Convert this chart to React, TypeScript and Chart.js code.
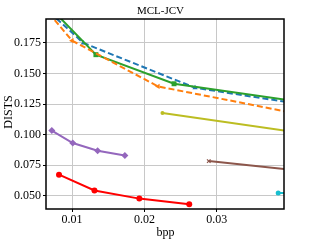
import React, { useEffect, useRef } from "react";
import { Chart, registerables } from "chart.js";

Chart.register(...registerables);

const titleText = "MCL-JCV";
const xLabel = "bpp";
const yLabel = "DISTS";

const xTickValues = [0.01, 0.02, 0.03];
const xTickLabels = ["0.01", "0.02", "0.03"];
const yTickValues = [0.05, 0.075, 0.1, 0.125, 0.15, 0.175];
const yTickLabels = ["0.050", "0.075", "0.100", "0.125", "0.150", "0.175"];

const blueX = [0.006, 0.01156, 0.027, 0.045];
const blueY = [0.205, 0.175, 0.1383, 0.1218];
const orangeX = [0.006, 0.01, 0.0219, 0.045];
const orangeY = [0.205, 0.1769, 0.1394, 0.1126];
const greenX = [0.0068, 0.0133, 0.0241, 0.045];
const greenY = [0.205, 0.1654, 0.1416, 0.1239];
const redX = [0.0082, 0.0131, 0.0193, 0.0262];
const redY = [0.0672, 0.0543, 0.0476, 0.0429];
const purpleX = [0.0072, 0.0101, 0.01354, 0.0173];
const purpleY = [0.1033, 0.0931, 0.0868, 0.0829];
const oliveX = [0.0225, 0.045];
const oliveY = [0.1176, 0.0985];
const brownX = [0.0289, 0.045];
const brownY = [0.0783, 0.0683];
const cyanX = [0.0385, 0.05];
const cyanY = [0.0522, 0.0512];

const pts = (xs: number[], ys: number[]) => xs.map((x, i) => ({ x, y: ys[i] }));

const FONT = "'Liberation Serif', 'DejaVu Serif', serif";

export default function App() {
  const ref = useRef<HTMLCanvasElement | null>(null);
  useEffect(() => {
    if (!ref.current) return;
    const framePlugin = {
      id: "frame",
      afterDraw(chart: any) {
        const { ctx, chartArea: a } = chart;
        ctx.save();
        ctx.strokeStyle = "#000";
        ctx.lineWidth = 1.5;
        ctx.strokeRect(a.left, a.top, a.right - a.left, a.bottom - a.top);
        ctx.fillStyle = "#000";
        ctx.textAlign = "center";
        ctx.textBaseline = "middle";
        ctx.font = `11px ${FONT}`;
        ctx.fillText(titleText, 160.5, 11.5);
        ctx.font = `12px ${FONT}`;
        ctx.fillText(xLabel, 165.5, 232.5);
        ctx.translate(9, 112);
        ctx.rotate(-Math.PI / 2);
        ctx.fillText(yLabel, 0, 0);
        ctx.restore();
      },
    };
    const ds = (
      xs: number[],
      ys: number[],
      color: string,
      style: any,
      radius: number,
      dash: number[] = [],
      rotation = 0
    ) => ({
      data: pts(xs, ys),
      borderColor: color,
      backgroundColor: color,
      borderWidth: 2,
      borderDash: dash,
      pointStyle: style,
      pointRadius: radius,
      pointRotation: rotation,
      pointBorderWidth: style === "crossRot" ? 1.2 : 0,
      pointBorderColor: color,
      tension: 0,
    });
    const chart = new Chart(ref.current, {
      type: "line",
      data: {
        datasets: [
          ds(oliveX, oliveY, "#bcbd22", "circle", 2),
          ds(brownX, brownY, "#8c564b", "crossRot", 2.5),
          ds(cyanX, cyanY, "#17becf", "circle", 2.5),
          ds(purpleX, purpleY, "#9467bd", "rectRot", 3.5),
          ds(redX, redY, "#ff0000", "circle", 3),
          ds(orangeX, orangeY, "#ff7f0e", "triangle", 3, [6, 3], -90),
          ds(greenX, greenY, "#2ca02c", "rect", 3.5),
          ds(blueX, blueY, "#1f77b4", "triangle", 3, [6, 3]),
        ] as any,
      },
      plugins: [framePlugin],
      options: {
        animation: false,
        responsive: false,
        maintainAspectRatio: false,
        layout: { padding: { top: 19, right: 25, left: 0, bottom: 0 } },
        plugins: { legend: { display: false }, title: { display: false }, tooltip: { enabled: false } },
        scales: {
          x: {
            type: "linear",
            min: 0.0064,
            max: 0.0393,
            afterBuildTicks: (s: any) => {
              s.ticks = xTickValues.map((v) => ({ value: v }));
            },
            afterFit: (s: any) => {
              s.height = 38;
            },
            ticks: {
              color: "#000",
              font: { family: FONT, size: 12 },
              padding: 1,
              maxRotation: 0,
              callback: (v: any) => {
                const i = xTickValues.findIndex((t) => Math.abs(t - v) < 1e-9);
                return i >= 0 ? xTickLabels[i] : "";
              },
            },
            grid: { color: "#c8c8c8", lineWidth: 1, tickLength: 3, tickColor: "#000" },
            border: { display: false },
          },
          y: {
            type: "linear",
            min: 0.0391,
            max: 0.1946,
            afterBuildTicks: (s: any) => {
              s.ticks = yTickValues.map((v) => ({ value: v }));
            },
            afterFit: (s: any) => {
              s.width = 46;
            },
            ticks: {
              color: "#000",
              font: { family: FONT, size: 12 },
              padding: 2,
              callback: (v: any) => {
                const i = yTickValues.findIndex((t) => Math.abs(t - v) < 1e-9);
                return i >= 0 ? yTickLabels[i] : "";
              },
            },
            grid: { color: "#c8c8c8", lineWidth: 1, tickLength: 3, tickColor: "#000" },
            border: { display: false },
          },
        },
      },
    });
    return () => chart.destroy();
  }, []);
  return (
    <div style={{ position: "fixed", left: 0, top: 0, width: 309, height: 247, background: "#fff" }}>
      <canvas ref={ref} width={309} height={247} style={{ width: 309, height: 247, display: "block" }} />
    </div>
  );
}
